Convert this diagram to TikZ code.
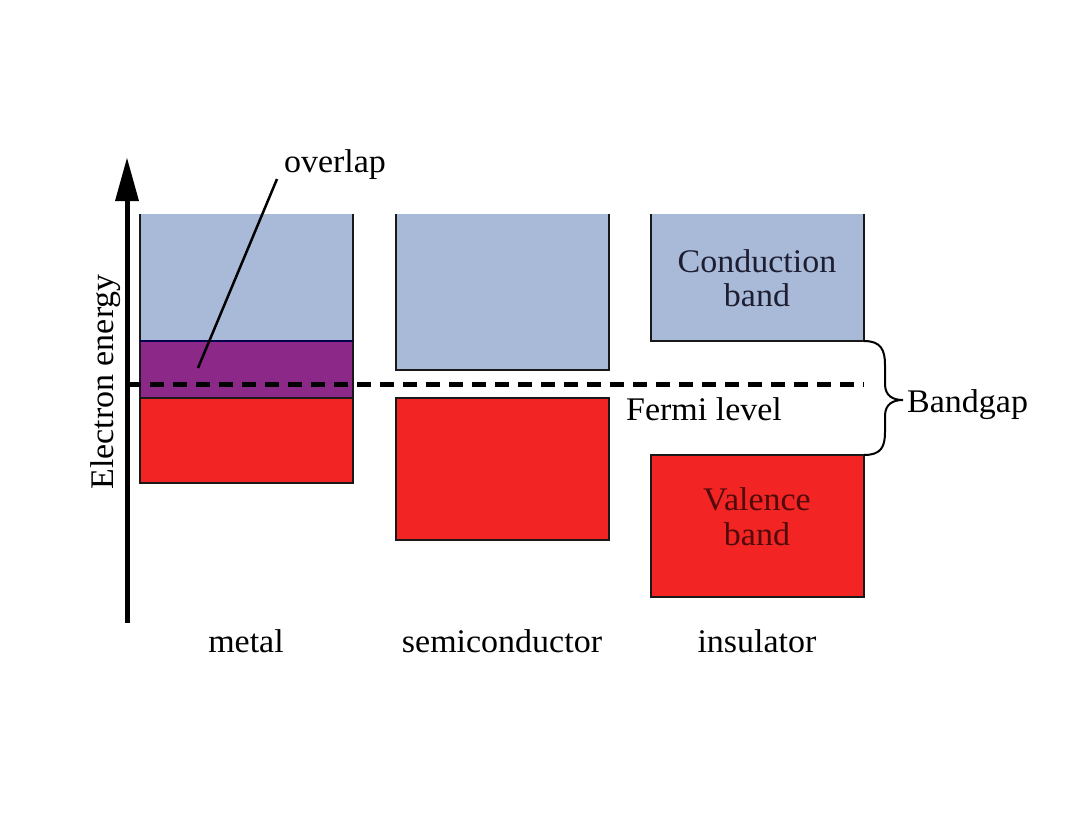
\documentclass[tikz,border=0pt]{standalone}
\usepackage{fontspec}
\setmainfont{Liberation Serif}[FakeStretch=1.03]
\definecolor{cband}{RGB}{169,186,216}
\definecolor{vband}{RGB}{242,36,36}
\definecolor{oband}{RGB}{140,40,135}
\definecolor{ctext}{RGB}{30,30,50}
\definecolor{vtext}{RGB}{80,10,10}
\tikzset{
  lbl/.style={font=\fontsize{33}{36}\selectfont, inner sep=0pt, anchor=base},
  bandline/.style={line width=2pt, draw=black!90},
  axisline/.style={line width=5pt, draw=black},
  fermiline/.style={line width=5pt, draw=black, dash pattern=on 14pt off 9pt},
  pointer/.style={line width=2.5pt, draw=black},
  bracepath/.style={line width=2pt, draw=black},
}
\begin{document}
\begin{tikzpicture}[x=1pt,y=-1pt]
\useasboundingbox[fill=white] (0,0) rectangle (1079,833);
% metal
\fill[cband] (140,214) rectangle (353,341);
\fill[oband] (140,341) rectangle (353,398);
\fill[vband] (140,398) rectangle (353,483);
\draw[bandline] (140,214) -- (140,483) -- (353,483) -- (353,214);
\draw[bandline, draw=black!70!blue] (140,341) -- (353,341);
\draw[bandline] (140,398) -- (353,398);
% semiconductor
\fill[cband] (396,214) rectangle (609,370);
\draw[bandline] (396,214) |- (609,370) -- (609,214);
\filldraw[bandline, fill=vband] (396,398) rectangle (609,540);
% insulator
\fill[cband] (651,214) rectangle (864,341);
\draw[bandline] (651,214) |- (864,341) -- (864,214);
\filldraw[bandline, fill=vband] (651,455) rectangle (864,597);
% band texts
\node[lbl, text=ctext] (cond1) at (757,272) {Conduction};
\node[lbl, text=ctext] (cond2) at (757,306) {band};
\node[lbl, text=vtext] (val1) at (757,510) {Valence};
\node[lbl, text=vtext] (val2) at (757,545) {band};
% axis
\coordinate (axbot) at (127,623);
\coordinate (axtop) at (127,198);
\draw[axisline] (axbot) -- (axtop);
\fill (127,158) -- (139,201) -- (115,201) -- cycle;
\node[lbl, rotate=90] (energy) at (113,382) {Electron energy};
% fermi level
\coordinate (fstart) at (127,384);
\coordinate (fend) at (864,384);
\draw[fermiline] (fstart) -- (fend);
\node[lbl] (fermi) at (704,420) {Fermi level};
% overlap
\node[lbl] (overlap) at (335,172) {overlap};
\coordinate (ovA) at (277,179);
\coordinate (ovB) at (198,368);
\draw[pointer] (ovA) -- (ovB);
% brace
\coordinate (brtop) at (864,341);
\coordinate (brbot) at (864,455);
\coordinate (brtip) at (903,400);
\draw[bracepath] (brtop) .. controls (881,341) and (885,350) .. (885,365)
  -- (885,384) .. controls (885,396) and (893,400) .. (brtip)
  .. controls (893,400) and (885,404) .. (885,416)
  -- (885,432) .. controls (885,447) and (881,455) .. (brbot);
\node[lbl, anchor=base west] (bandgap) at (907,412) {Bandgap};
% column labels
\node[lbl] (metal) at (246,652) {metal};
\node[lbl] (semi) at (502,652) {semiconductor};
\node[lbl] (insul) at (757,652) {insulator};
\end{tikzpicture}
\end{document}
